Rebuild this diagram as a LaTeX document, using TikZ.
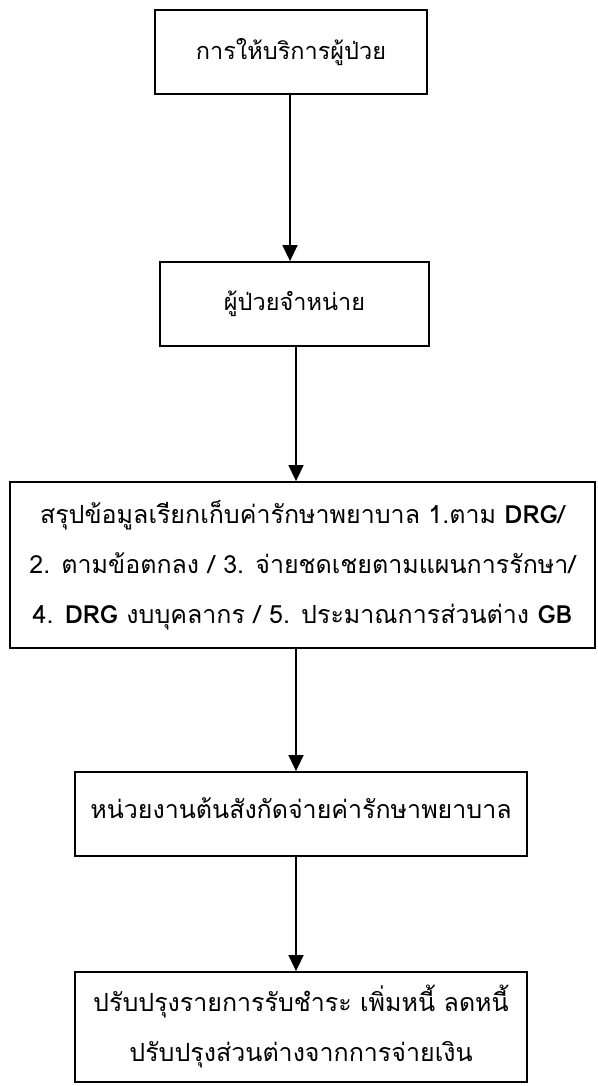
\documentclass[tikz,border=0pt]{standalone}
\usepackage{fontspec}
\setmainfont[Script=Thai]{Loma}
\usetikzlibrary{arrows.meta}
\tikzset{
  stepbox/.style={draw,line width=1.8pt,align=center,inner sep=0pt,
    font=\fontsize{25}{50}\selectfont},
  smallbox/.style={stepbox,font=\fontsize{23.5}{50}\selectfont},
  flow/.style={line width=1.6pt,-{Triangle[width=15pt,length=16pt]}}
}
\begin{document}
\begin{tikzpicture}[x=1pt,y=-1pt]
\useasboundingbox (0,0) rectangle (597,1086);
\node[smallbox,minimum width=272,minimum height=84] (serve) at (291,52) {\raisebox{5pt}{การให้บริการผู้ป่วย}};
\node[smallbox,minimum width=269,minimum height=84] (discharge) at (294.5,304) {\raisebox{5pt}{ผู้ป่วยจำหน่าย}};
\node[stepbox,minimum width=585,minimum height=166] (claim) at (302.5,565)
  {สรุปข้อมูลเรียกเก็บค่ารักษาพยาบาล 1.ตาม \textbf{DRG}/\\
   2. ตามข้อตกลง / 3. จ่ายชดเชยตามแผนการรักษา/\\
   4. \textbf{DRG} งบบุคลากร / 5. ประมาณการส่วนต่าง \textbf{GB}};
\node[stepbox,minimum width=452,minimum height=84] (agency) at (301,814) {\raisebox{11pt}{หน่วยงานต้นสังกัดจ่ายค่ารักษาพยาบาล}};
\node[stepbox,minimum width=452,minimum height=110] (adjust) at (301,1027)
  {ปรับปรุงรายการรับชำระ เพิ่มหนี้ ลดหนี้\\ ปรับปรุงส่วนต่างจากการจ่ายเงิน};
% connectors
\draw[flow] ([xshift=-1pt]serve.south) -- ([xshift=-1pt]serve.south |- discharge.north);
\draw[flow] ([xshift=1.5pt]discharge.south) -- ([xshift=1.5pt]discharge.south |- claim.north);
\draw[flow] ([xshift=-6.5pt]claim.south) -- ([xshift=-6.5pt]claim.south |- agency.north);
\draw[flow] ([xshift=-5pt]agency.south) -- ([xshift=-5pt]agency.south |- adjust.north);
\end{tikzpicture}
\end{document}
